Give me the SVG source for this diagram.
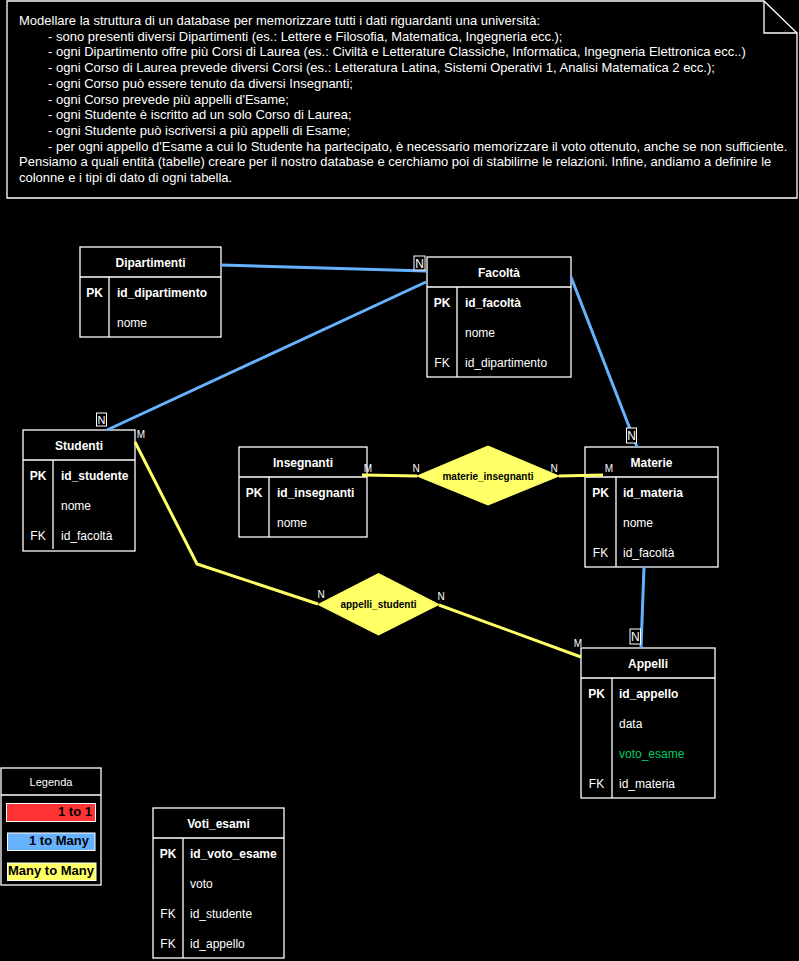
<svg xmlns="http://www.w3.org/2000/svg" width="799" height="961" viewBox="0 0 799 961">
<style>
text{font-family:"Liberation Sans",Arial,Helvetica,sans-serif;fill:#fff;font-size:12px}
.nt{font-size:13px}
.b{font-weight:bold}
.c{text-anchor:middle}
.frame{fill:#000;stroke:#fff;stroke-width:1.3}
.sep{stroke:#fff;stroke-width:1.3;fill:none}
.blue{stroke:#66B2FF;stroke-width:3;fill:none}
.yel{stroke:#FFFF66;stroke-width:3;fill:none;stroke-linejoin:round}
.lbl{font-size:10px}
.nbox{fill:#000;stroke:#fff;stroke-width:1}
.dia{fill:#FFFF66;stroke:#FFFF66;stroke-width:1}
.dt{fill:#000;font-size:10px;font-weight:bold;text-anchor:middle}
.lg{fill:#000;font-size:13px;font-weight:bold}
</style>
<rect x="0" y="0" width="799" height="961" fill="#000"/>

<g id="note">
<path d="M7 1 H764 L797 33 V198 H7 Z" class="frame"/>
<path d="M764 1 V33 H797" class="sep"/>
<g class="nt">
<text x="19" y="25" class="nt">Modellare la struttura di un database per memorizzare tutti i dati riguardanti una università:</text>
<text x="48" y="40.7" class="nt">- sono presenti diversi Dipartimenti (es.: Lettere e Filosofia, Matematica, Ingegneria ecc.);</text>
<text x="48" y="56.4" class="nt">- ogni Dipartimento offre più Corsi di Laurea (es.: Civiltà e Letterature Classiche, Informatica, Ingegneria Elettronica ecc..)</text>
<text x="48" y="72.1" class="nt">- ogni Corso di Laurea prevede diversi Corsi (es.: Letteratura Latina, Sistemi Operativi 1, Analisi Matematica 2 ecc.);</text>
<text x="48" y="87.8" class="nt">- ogni Corso può essere tenuto da diversi Insegnanti;</text>
<text x="48" y="103.5" class="nt">- ogni Corso prevede più appelli d'Esame;</text>
<text x="48" y="119.2" class="nt">- ogni Studente è iscritto ad un solo Corso di Laurea;</text>
<text x="48" y="134.9" class="nt">- ogni Studente può iscriversi a più appelli di Esame;</text>
<text x="48" y="150.6" class="nt">- per ogni appello d'Esame a cui lo Studente ha partecipato, è necessario memorizzare il voto ottenuto, anche se non sufficiente.</text>
<text x="19" y="166.3" class="nt">Pensiamo a quali entità (tabelle) creare per il nostro database e cerchiamo poi di stabilirne le relazioni. Infine, andiamo a definire le</text>
<text x="19" y="182" class="nt">colonne e i tipi di dato di ogni tabella.</text>
</g>
</g>

<g id="Dipartimenti">
<rect x="80" y="247" width="141" height="90" class="frame"/>
<path d="M80 277 H221 M109 277 V337" class="sep"/>
<text x="150.5" y="266.5" class="b c">Dipartimenti</text>
<text x="94.5" y="296.5" class="b c">PK</text>
<text x="117" y="296.5" class="b">id_dipartimento</text>
<text x="117" y="326.5">nome</text>
</g>

<g id="Facolta">
<rect x="427" y="257" width="144" height="120" class="frame"/>
<path d="M427 287 H571 M457 287 V377" class="sep"/>
<text x="499" y="276.5" class="b c">Facoltà</text>
<text x="442" y="306.5" class="b c">PK</text>
<text x="465" y="306.5" class="b">id_facoltà</text>
<text x="465" y="336.5">nome</text>
<text x="442" y="366.5" class="c">FK</text>
<text x="465" y="366.5">id_dipartimento</text>
</g>

<g id="Studenti">
<rect x="23" y="430" width="112" height="121" class="frame"/>
<path d="M23 460 H135 M53 460 V549" class="sep"/>
<text x="79" y="449.5" class="b c">Studenti</text>
<text x="38" y="479.5" class="b c">PK</text>
<text x="61" y="479.5" class="b">id_studente</text>
<text x="61" y="509.5">nome</text>
<text x="38" y="539.5" class="c">FK</text>
<text x="61" y="539.5">id_facoltà</text>
</g>

<g id="Insegnanti">
<rect x="239" y="447" width="128" height="90" class="frame"/>
<path d="M239 477 H367 M269 477 V537" class="sep"/>
<text x="303" y="466.5" class="b c">Insegnanti</text>
<text x="254" y="496.5" class="b c">PK</text>
<text x="277" y="496.5" class="b">id_insegnanti</text>
<text x="277" y="526.5">nome</text>
</g>

<g id="Materie">
<rect x="585" y="447" width="133" height="120" class="frame"/>
<path d="M585 477 H718 M616 477 V567" class="sep"/>
<text x="651.5" y="466.5" class="b c">Materie</text>
<text x="600.5" y="496.5" class="b c">PK</text>
<text x="623" y="496.5" class="b">id_materia</text>
<text x="623" y="526.5">nome</text>
<text x="600.5" y="556.5" class="c">FK</text>
<text x="623" y="556.5">id_facoltà</text>
</g>

<g id="Appelli">
<rect x="581" y="648" width="134" height="150" class="frame"/>
<path d="M581 678 H715 M612 678 V798" class="sep"/>
<text x="648" y="667.5" class="b c">Appelli</text>
<text x="596.5" y="697.5" class="b c">PK</text>
<text x="619" y="697.5" class="b">id_appello</text>
<text x="619" y="727.5">data</text>
<text x="619" y="757.5" style="fill:#00CC66">voto_esame</text>
<text x="596.5" y="787.5" class="c">FK</text>
<text x="619" y="787.5">id_materia</text>
</g>

<g id="Voti_esami">
<rect x="153" y="808" width="131" height="150" class="frame"/>
<path d="M153 838 H284 M183 838 V958" class="sep"/>
<text x="218.5" y="827.5" class="b c">Voti_esami</text>
<text x="168" y="857.5" class="b c">PK</text>
<text x="190" y="857.5" class="b">id_voto_esame</text>
<text x="190" y="887.5">voto</text>
<text x="168" y="917.5" class="c">FK</text>
<text x="190" y="917.5">id_studente</text>
<text x="168" y="947.5" class="c">FK</text>
<text x="190" y="947.5">id_appello</text>
</g>

<g id="Legenda">
<rect x="1" y="768" width="100" height="117" class="frame"/>
<path d="M1 795 H101" class="sep"/>
<text x="51" y="786" class="c" style="font-size:11px">Legenda</text>
<rect x="6.5" y="803.5" width="89" height="18" fill="#FF3333" stroke="#fff" stroke-width="1"/>
<text x="92" y="815.5" class="lg" text-anchor="end">1 to 1</text>
<rect x="7.5" y="833" width="87.5" height="17.5" fill="#66B2FF" stroke="#fff" stroke-width="1"/>
<text x="89" y="845" class="lg" text-anchor="end">1 to Many</text>
<rect x="7.5" y="863" width="88.5" height="17.5" fill="#FFFF66" stroke="#fff" stroke-width="1"/>
<text x="51" y="875" class="lg" text-anchor="middle">Many to Many</text>
</g>

<g id="connectors">
<path d="M221 265 L426 271" class="blue"/>
<path d="M107 430 L426 282" class="blue"/>
<path d="M571 277 L637 447" class="blue"/>
<path d="M644 567 L641 648" class="blue"/>
<path d="M362 475 L417 476" class="yel"/>
<path d="M559 476 L603 475" class="yel"/>
<path d="M135 442 L197 564 L318 604" class="yel"/>
<path d="M439 605 L581 657" class="yel"/>
<rect x="414" y="256" width="11" height="14" class="nbox"/>
<text x="419.5" y="267.5" class="c">N</text>
<rect x="96.5" y="413" width="10" height="13" class="nbox"/>
<text x="101.5" y="424" class="c" style="font-size:11px">N</text>
<rect x="626.5" y="428" width="10" height="15" class="nbox"/>
<text x="631.5" y="440" class="c">N</text>
<rect x="630" y="629" width="10.5" height="15" class="nbox"/>
<text x="635.3" y="641" class="c">N</text>
<text x="141" y="438" class="lbl c">M</text>
<text x="368" y="471.5" class="lbl c">M</text>
<text x="416" y="471.5" class="lbl c">N</text>
<text x="554" y="471.5" class="lbl c">N</text>
<text x="609" y="471.5" class="lbl c">M</text>
<text x="321" y="598" class="lbl c">N</text>
<text x="441" y="599.5" class="lbl c">N</text>
<text x="578" y="646.5" class="lbl c">M</text>
</g>

<g id="materie_insegnanti">
<path d="M417 476 L488 446 L559 476 L488 505 Z" class="dia"/>
<text x="488" y="480" class="dt">materie_insegnanti</text>
</g>

<g id="appelli_studenti">
<path d="M318 604.5 L378.5 573.5 L439 604.5 L378.5 635 Z" class="dia"/>
<text x="378.5" y="608" class="dt">appelli_studenti</text>
</g>
</svg>
